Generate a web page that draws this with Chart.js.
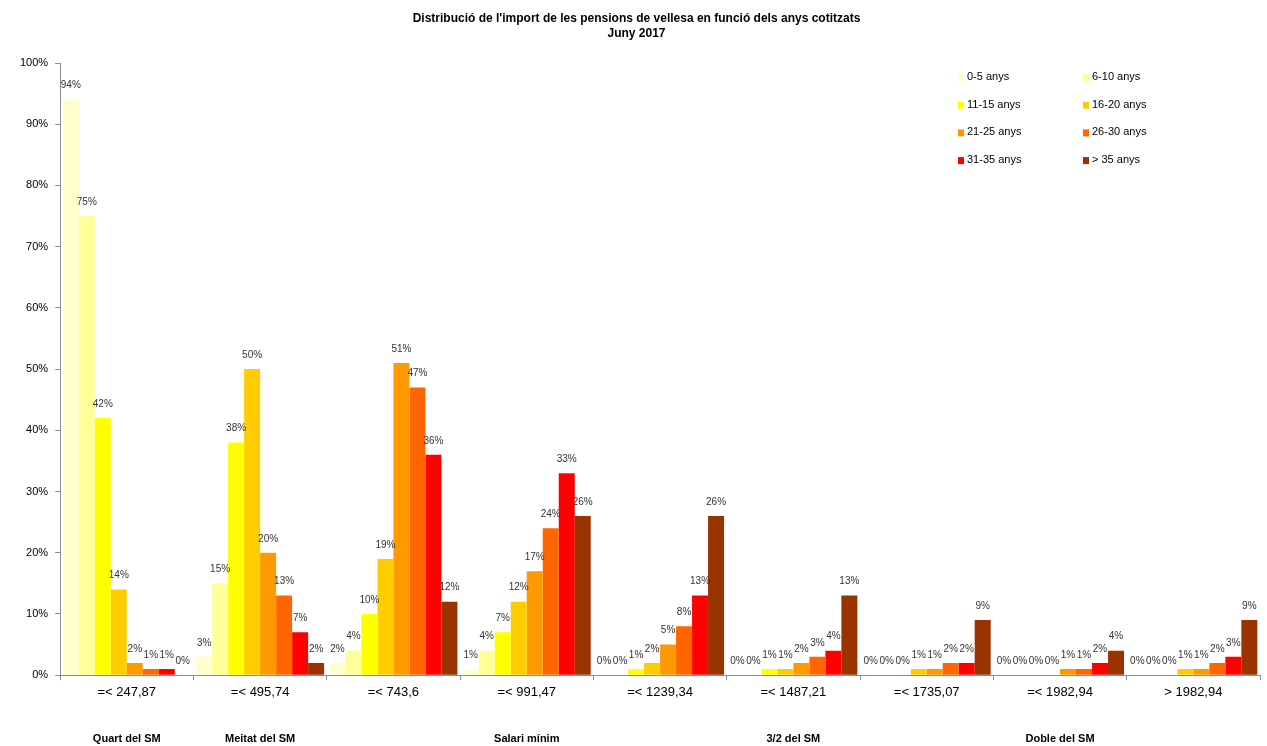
<!DOCTYPE html>
<html>
<head>
<meta charset="utf-8">
<title>Distribució de l'import de les pensions de vellesa</title>
<script src="https://cdn.jsdelivr.net/npm/chart.js@4"></script>
<style>
  html, body { margin: 0; padding: 0; background: #fff; }
  #chart { display: block; }
</style>
</head>
<body>
<canvas id="chart" width="1267" height="746"></canvas>
<script>
// ── data ──────────────────────────────────────
const categories = ['=< 247,87', '=< 495,74', '=< 743,6', '=< 991,47', '=< 1239,34',
                    '=< 1487,21', '=< 1735,07', '=< 1982,94', '> 1982,94'];
const groupNames = ['Quart del SM', 'Meitat del SM', '', 'Salari mínim', '',
                    '3/2 del SM', '', 'Doble del SM', ''];

const seriesLabels = ['0-5 anys', '6-10 anys', '11-15 anys', '16-20 anys',
                      '21-25 anys', '26-30 anys', '31-35 anys', '> 35 anys'];
const seriesColors = ['#ffffcc', '#ffff99', '#ffff00', '#ffcc00',
                      '#ff9900', '#ff6600', '#ff0000', '#993300'];

const anys0_5   = [94,  3,  2,  1,  0, 0, 0, 0, 0];
const anys6_10  = [75, 15,  4,  4,  0, 0, 0, 0, 0];
const anys11_15 = [42, 38, 10,  7,  1, 1, 0, 0, 0];
const anys16_20 = [14, 50, 19, 12,  2, 1, 1, 0, 1];
const anys21_25 = [ 2, 20, 51, 17,  5, 2, 1, 1, 1];
const anys26_30 = [ 1, 13, 47, 24,  8, 3, 2, 1, 2];
const anys31_35 = [ 1,  7, 36, 33, 13, 4, 2, 2, 3];
const anys35    = [ 0,  2, 12, 26, 26, 13, 9, 4, 9];

const seriesValues = [anys0_5, anys6_10, anys11_15, anys16_20,
                      anys21_25, anys26_30, anys31_35, anys35];

const yTicks = [0, 10, 20, 30, 40, 50, 60, 70, 80, 90, 100];

const FONT = "'Liberation Sans', Arial, sans-serif";
const AXIS = '#8c8c8c';

// value labels above each bar
const barLabels = {
  id: 'barLabels',
  afterDatasetsDraw(chart) {
    const ctx = chart.ctx;
    ctx.save();
    ctx.font = '10px ' + FONT;
    ctx.fillStyle = '#333';
    ctx.textAlign = 'center';
    ctx.textBaseline = 'middle';
    chart.data.datasets.forEach((ds, i) => {
      chart.getDatasetMeta(i).data.forEach((bar, j) => {
        ctx.fillText(ds.data[j] + '%', bar.x, bar.y - 14);
      });
    });
    ctx.restore();
  },
};

// two-column legend inside the plot, top right
const gridLegend = {
  id: 'gridLegend',
  afterDraw(chart) {
    const ctx = chart.ctx;
    const area = chart.chartArea;
    ctx.save();
    ctx.font = '11px ' + FONT;
    ctx.textBaseline = 'middle';
    ctx.textAlign = 'left';
    chart.data.datasets.forEach((ds, i) => {
      const col = i % 2, row = Math.floor(i / 2);
      const x = area.right - 302 + col * 125;
      const y = area.top + 14 + row * 27.7;
      ctx.fillStyle = ds.backgroundColor;
      ctx.fillRect(x, y - 3, 6, 7);
      ctx.fillStyle = '#000';
      ctx.fillText(ds.label, x + 9, y);
    });
    ctx.restore();
  },
};

new Chart(document.getElementById('chart'), {
  type: 'bar',
  data: {
    labels: categories,
    datasets: seriesLabels.map((label, i) => ({
      label,
      data: seriesValues[i],
      backgroundColor: seriesColors[i],
      borderWidth: 0,
      categoryPercentage: 0.96,
      barPercentage: 1.0,
    })),
  },
  options: {
    responsive: false,
    animation: false,
    layout: { padding: { left: 13, right: 7, top: 0, bottom: -21 } },
    scales: {
      x: {
        grid: { drawOnChartArea: false, offset: true, tickLength: 5, color: AXIS },
        border: { color: AXIS },
        ticks: { color: '#000', font: { family: FONT, size: 13 }, padding: 4, maxRotation: 0 },
      },
      x2: {
        type: 'category',
        labels: groupNames,
        position: 'bottom',
        grid: { display: false },
        border: { display: false },
        ticks: { color: '#000', font: { family: FONT, size: 11, weight: 'bold' }, padding: 21, maxRotation: 0, autoSkip: false },
      },
      y: {
        min: 0,
        max: 100,
        afterBuildTicks: axis => { axis.ticks = yTicks.map(v => ({ value: v })); },
        grid: { drawOnChartArea: false, tickLength: 5, color: AXIS },
        border: { color: AXIS },
        ticks: { color: '#000', font: { family: FONT, size: 11 }, padding: 7, callback: v => v + '%' },
      },
    },
    plugins: {
      legend: { display: false },
      tooltip: { enabled: false },
      title: {
        display: true,
        text: ["Distribució de l'import de les pensions de vellesa en funció dels anys cotitzats", 'Juny 2017'],
        color: '#000',
        font: { family: FONT, size: 12, weight: 'bold', lineHeight: 1.25 },
        padding: { top: 11, bottom: 22 },
      },
    },
  },
  plugins: [barLabels, gridLegend],
});
</script>
</body>
</html>
